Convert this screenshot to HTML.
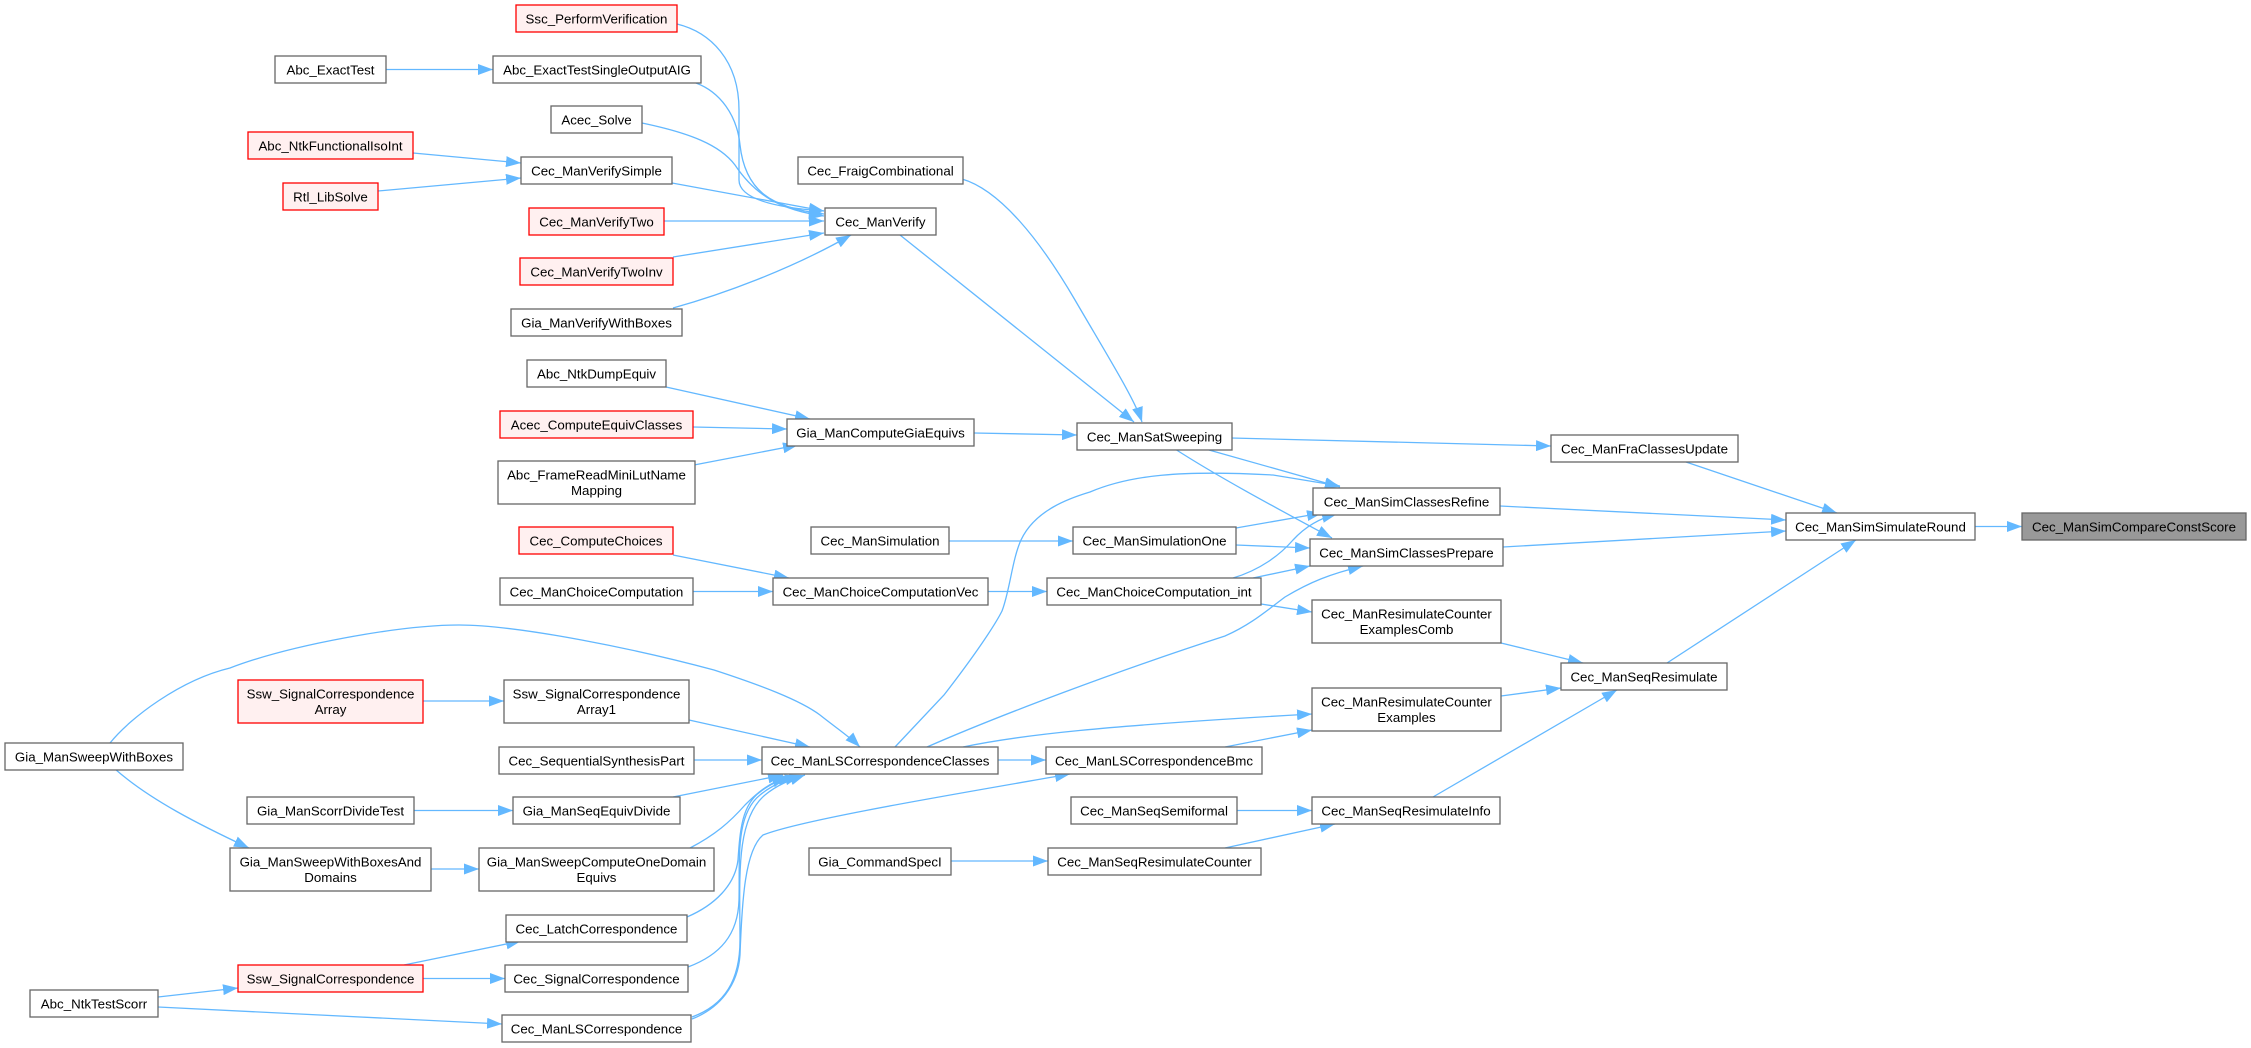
<!DOCTYPE html>
<html><head><meta charset="utf-8">
<style>
html,body{margin:0;padding:0;background:#fff;}
svg{display:block;}
text{font-family:"Liberation Sans",Arial,sans-serif;font-size:13.3px;fill:#000;text-anchor:middle;}
.n{fill:#fff;stroke:#666;stroke-width:1.3;}
.r{fill:#fff0f0;stroke:#f00;stroke-width:1.3;}
.g{fill:#999;stroke:#666;stroke-width:1.3;}
.e{fill:none;stroke:#63b8ff;stroke-width:1.3;marker-end:url(#a);}
</style></head>
<body>
<svg width="2251" height="1048" viewBox="0 0 2251 1048" xmlns="http://www.w3.org/2000/svg">
<defs>
<marker id="a" markerUnits="userSpaceOnUse" markerWidth="15" markerHeight="11" viewBox="0 0 15 11" refX="15" refY="5.5" orient="auto">
<path d="M0,0 L15,5.5 L0,11 z" fill="#63b8ff"/>
</marker>
</defs>

<!-- edges -->
<path class="e" d="M677,24 C710,32 739,60 739,110 L739,180 C739,200 780,208 824,211"/>
<path class="e" d="M386,69.5 L493,69.5"/>
<path class="e" d="M696,83 C720,92 737,115 740,145 C745,190 770,208 824,214"/>
<path class="e" d="M642,123 C690,133 720,145 735,165 C755,195 780,210 824,216"/>
<path class="e" d="M413,153 L521,163"/>
<path class="e" d="M378,191 L521,178"/>
<path class="e" d="M672,183 L824,211"/>
<path class="e" d="M664,221 L824,221"/>
<path class="e" d="M673,257 L824,233"/>
<path class="e" d="M673,308 C720,295 790,270 851,235"/>
<path class="e" d="M962,179 C1000,190 1040,240 1075,300 C1110,360 1135,400 1142,422"/>
<path class="e" d="M900,235 L1134,422"/>
<path class="e" d="M666,387 L810,419"/>
<path class="e" d="M693,427 L787,429"/>
<path class="e" d="M694,465 L798,445"/>
<path class="e" d="M974,433 L1077,435"/>
<path class="e" d="M1231,438 L1551,446"/>
<path class="e" d="M1209,450 L1340,487"/>
<path class="e" d="M1175,449 C1220,478 1280,510 1332,538"/>
<path class="e" d="M1686,462 L1837,513"/>
<path class="e" d="M1500,506 L1786,520"/>
<path class="e" d="M1503,547 L1786,531"/>
<path class="e" d="M1975,526.5 L2022,526.5"/>
<path class="e" d="M1667,663 L1856,540"/>
<path class="e" d="M949,541 L1073,541"/>
<path class="e" d="M1236,528 L1322,513"/>
<path class="e" d="M1236,545 L1310,548"/>
<path class="e" d="M673,555 L789,578"/>
<path class="e" d="M693,591.5 L773,591.5"/>
<path class="e" d="M988,591.5 L1047,591.5"/>
<path class="e" d="M1233,578 C1260,570 1280,555 1293,540 C1305,527 1320,518 1337,514"/>
<path class="e" d="M1253,578 L1310,566"/>
<path class="e" d="M1261,604 L1312,612"/>
<path class="e" d="M1501,643 L1583,663"/>
<path class="e" d="M1501,696 L1561,688"/>
<path class="e" d="M1433,797 L1617,690"/>
<path class="e" d="M895,747 L944,695 C975,655 995,625 1002,611 C1010,590 1012,560 1021,540 C1035,510 1070,498 1090,492 C1130,475 1180,470 1273,475 L1340,486"/>
<path class="e" d="M927,747 C1000,715 1120,670 1225,636 C1250,625 1265,612 1285,597 C1310,582 1330,574 1363,566"/>
<path class="e" d="M963,747 C1020,735 1100,726 1312,714"/>
<path class="e" d="M998,760 L1046,760"/>
<path class="e" d="M1225,747 L1312,730"/>
<path class="e" d="M110,743 C130,718 180,680 230,668 C290,645 400,625 459,625 C520,625 640,650 714,670 C760,685 800,700 820,715 C835,727 850,737 860,747"/>
<path class="e" d="M115,769 C150,800 200,825 249,848"/>
<path class="e" d="M423,701 L504,701"/>
<path class="e" d="M689,720 L810,747"/>
<path class="e" d="M694,760 L762,760"/>
<path class="e" d="M414,810.5 L513,810.5"/>
<path class="e" d="M673,797 L783,775"/>
<path class="e" d="M431,869 L479,869"/>
<path class="e" d="M690,848 C715,835 730,822 745,805 C760,790 770,783 787,777"/>
<path class="e" d="M687,917 C715,905 735,885 738,860 C740,830 742,805 760,792 C770,784 780,780 793,777"/>
<path class="e" d="M688,967 C720,955 738,935 739,900 C740,860 735,815 760,795 C772,785 785,780 800,776"/>
<path class="e" d="M692,1017 C725,1005 740,980 740,940 C740,880 735,820 765,795 C777,785 790,780 805,775"/>
<path class="e" d="M692,1019 C720,1008 738,985 740,955 C742,900 745,850 763,835 C800,820 950,795 1070,774"/>
<path class="e" d="M404,965 L521,941"/>
<path class="e" d="M423,978.5 L505,978.5"/>
<path class="e" d="M158,997 L238,988"/>
<path class="e" d="M158,1007 L502,1024"/>
<path class="e" d="M1237,810.5 L1312,810.5"/>
<path class="e" d="M951,861 L1048,861"/>
<path class="e" d="M1225,848 L1335,824"/>

<!-- Column C -->
<rect class="r" x="516" y="5" width="161" height="27"/><text x="596.5" y="23.5">Ssc_PerformVerification</text>
<rect class="n" x="493" y="56" width="208" height="27"/><text x="597" y="74.5">Abc_ExactTestSingleOutputAIG</text>
<rect class="n" x="551" y="106" width="91" height="27"/><text x="596.5" y="124.5">Acec_Solve</text>
<rect class="n" x="521" y="157" width="151" height="27"/><text x="596.5" y="175.5">Cec_ManVerifySimple</text>
<rect class="r" x="529" y="208" width="135" height="27"/><text x="596.5" y="226.5">Cec_ManVerifyTwo</text>
<rect class="r" x="520" y="258" width="153" height="27"/><text x="596.5" y="276.5">Cec_ManVerifyTwoInv</text>
<rect class="n" x="511" y="309" width="171" height="27"/><text x="596.5" y="327.5">Gia_ManVerifyWithBoxes</text>
<rect class="n" x="527" y="360" width="139" height="27"/><text x="596.5" y="378.5">Abc_NtkDumpEquiv</text>
<rect class="r" x="500" y="411" width="193" height="27"/><text x="596.5" y="429.5">Acec_ComputeEquivClasses</text>
<rect class="n" x="498" y="461" width="197" height="43"/><text x="596.5" y="479.5">Abc_FrameReadMiniLutName</text><text x="596.5" y="495">Mapping</text>
<rect class="r" x="519" y="527" width="154" height="27"/><text x="596" y="545.5">Cec_ComputeChoices</text>
<rect class="n" x="500" y="578" width="193" height="27"/><text x="596.5" y="596.5">Cec_ManChoiceComputation</text>
<rect class="n" x="504" y="680" width="185" height="43"/><text x="596.5" y="698.5">Ssw_SignalCorrespondence</text><text x="596.5" y="714">Array1</text>
<rect class="n" x="499" y="747" width="195" height="27"/><text x="596.5" y="765.5">Cec_SequentialSynthesisPart</text>
<rect class="n" x="513" y="797" width="167" height="27"/><text x="596.5" y="815.5">Gia_ManSeqEquivDivide</text>
<rect class="n" x="479" y="848" width="235" height="43"/><text x="596.5" y="866.5">Gia_ManSweepComputeOneDomain</text><text x="596.5" y="882">Equivs</text>
<rect class="n" x="506" y="915" width="181" height="27"/><text x="596.5" y="933.5">Cec_LatchCorrespondence</text>
<rect class="n" x="505" y="965" width="183" height="27"/><text x="596.5" y="983.5">Cec_SignalCorrespondence</text>
<rect class="n" x="502" y="1015" width="189" height="27"/><text x="596.5" y="1033.5">Cec_ManLSCorrespondence</text>

<!-- Column B -->
<rect class="n" x="275" y="56" width="111" height="27"/><text x="330.5" y="74.5">Abc_ExactTest</text>
<rect class="r" x="248" y="132" width="165" height="27"/><text x="330.5" y="150.5">Abc_NtkFunctionalIsoInt</text>
<rect class="r" x="283" y="183" width="95" height="27"/><text x="330.5" y="201.5">Rtl_LibSolve</text>
<rect class="r" x="238" y="680" width="185" height="43"/><text x="330.5" y="698.5">Ssw_SignalCorrespondence</text><text x="330.5" y="714">Array</text>
<rect class="n" x="247" y="797" width="167" height="27"/><text x="330.5" y="815.5">Gia_ManScorrDivideTest</text>
<rect class="n" x="230" y="848" width="201" height="43"/><text x="330.5" y="866.5">Gia_ManSweepWithBoxesAnd</text><text x="330.5" y="882">Domains</text>
<rect class="r" x="238" y="965" width="185" height="27"/><text x="330.5" y="983.5">Ssw_SignalCorrespondence</text>

<!-- Column A -->
<rect class="n" x="5" y="743" width="178" height="27"/><text x="94" y="761.5">Gia_ManSweepWithBoxes</text>
<rect class="n" x="30" y="990" width="128" height="27"/><text x="94" y="1008.5">Abc_NtkTestScorr</text>

<!-- Column D -->
<rect class="n" x="798" y="157" width="165" height="27"/><text x="880.5" y="175.5">Cec_FraigCombinational</text>
<rect class="n" x="825" y="208" width="111" height="27"/><text x="880.5" y="226.5">Cec_ManVerify</text>
<rect class="n" x="787" y="419" width="187" height="27"/><text x="880.5" y="437.5">Gia_ManComputeGiaEquivs</text>
<rect class="n" x="811" y="527" width="138" height="27"/><text x="880" y="545.5">Cec_ManSimulation</text>
<rect class="n" x="773" y="578" width="215" height="27"/><text x="880.5" y="596.5">Cec_ManChoiceComputationVec</text>
<rect class="n" x="762" y="747" width="236" height="27"/><text x="880" y="765.5">Cec_ManLSCorrespondenceClasses</text>
<rect class="n" x="809" y="848" width="142" height="27"/><text x="880" y="866.5">Gia_CommandSpecI</text>

<!-- Column E -->
<rect class="n" x="1077" y="423" width="155" height="27"/><text x="1154.5" y="441.5">Cec_ManSatSweeping</text>
<rect class="n" x="1073" y="527" width="163" height="27"/><text x="1154.5" y="545.5">Cec_ManSimulationOne</text>
<rect class="n" x="1047" y="578" width="214" height="27"/><text x="1154" y="596.5">Cec_ManChoiceComputation_int</text>
<rect class="n" x="1046" y="747" width="216" height="27"/><text x="1154" y="765.5">Cec_ManLSCorrespondenceBmc</text>
<rect class="n" x="1071" y="797" width="166" height="27"/><text x="1154" y="815.5">Cec_ManSeqSemiformal</text>
<rect class="n" x="1048" y="848" width="213" height="27"/><text x="1154.5" y="866.5">Cec_ManSeqResimulateCounter</text>

<!-- Column F -->
<rect class="n" x="1313" y="488" width="187" height="27"/><text x="1406.5" y="506.5">Cec_ManSimClassesRefine</text>
<rect class="n" x="1310" y="539" width="193" height="27"/><text x="1406.5" y="557.5">Cec_ManSimClassesPrepare</text>
<rect class="n" x="1312" y="600" width="189" height="43"/><text x="1406.5" y="618.5">Cec_ManResimulateCounter</text><text x="1406.5" y="634">ExamplesComb</text>
<rect class="n" x="1312" y="688" width="189" height="43"/><text x="1406.5" y="706.5">Cec_ManResimulateCounter</text><text x="1406.5" y="722">Examples</text>
<rect class="n" x="1312" y="797" width="188" height="27"/><text x="1406" y="815.5">Cec_ManSeqResimulateInfo</text>

<!-- Column G -->
<rect class="n" x="1551" y="435" width="187" height="27"/><text x="1644.5" y="453.5">Cec_ManFraClassesUpdate</text>
<rect class="n" x="1561" y="663" width="166" height="27"/><text x="1644" y="681.5">Cec_ManSeqResimulate</text>

<!-- Column H / I -->
<rect class="n" x="1786" y="513" width="189" height="27"/><text x="1880.5" y="531.5">Cec_ManSimSimulateRound</text>
<rect class="g" x="2022" y="513" width="224" height="27"/><text x="2134" y="531.5">Cec_ManSimCompareConstScore</text>
</svg>
</body></html>
